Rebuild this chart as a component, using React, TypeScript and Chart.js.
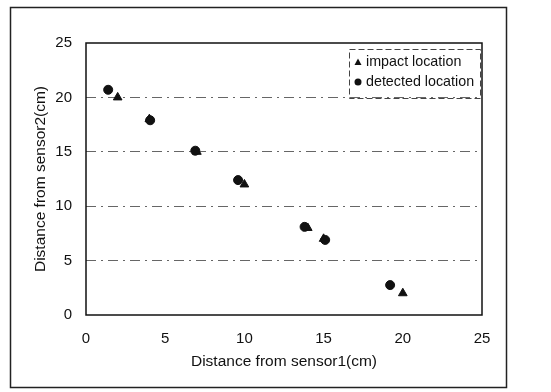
import React, { useEffect, useRef } from "react";
import { Chart, registerables } from "chart.js";

Chart.register(...registerables);

const impactX = [2, 4, 7, 10, 14, 15, 20];
const impactY = [20, 18, 15, 12, 8, 7, 2];
const detectedX = [1.4, 4.05, 6.9, 9.6, 13.8, 15.1, 19.2];
const detectedY = [20.7, 17.9, 15.1, 12.4, 8.1, 6.9, 2.75];
const seriesNames = ["impact location", "detected location"];
const xTitle = "Distance from sensor1(cm)";
const yTitle = "Distance from sensor2(cm)";

const FONT = "'Liberation Sans', Arial, sans-serif";

const framePlugin = {
  id: "frames",
  beforeDraw(chart: any) {
    const ctx = chart.ctx;
    ctx.save();
    ctx.fillStyle = "#fff";
    ctx.fillRect(0, 0, chart.width, chart.height);
    ctx.strokeStyle = "#222";
    ctx.lineWidth = 1.5;
    ctx.strokeRect(10.5, 7.5, 496, 380);
    ctx.restore();
  },
  afterDraw(chart: any) {
    const ctx = chart.ctx;
    const a = chart.chartArea;
    ctx.save();
    ctx.strokeStyle = "#111";
    ctx.lineWidth = 1.5;
    ctx.strokeRect(a.left, a.top, a.right - a.left, a.bottom - a.top);
    // legend box
    const lx = a.right - 133;
    const ly = a.top + 6;
    const lw = 131;
    const lh = 49;
    ctx.lineWidth = 1;
    ctx.strokeStyle = "#444";
    ctx.setLineDash([6, 3]);
    ctx.strokeRect(lx + 0.5, ly + 0.5, lw, lh);
    ctx.setLineDash([]);
    ctx.fillStyle = "#111";
    ctx.font = `14.3px ${FONT}`;
    ctx.textBaseline = "middle";
    ctx.textAlign = "left";
    const rows = [ly + 13, ly + 33];
    const tx = lx + 9;
    ctx.beginPath();
    ctx.moveTo(tx, rows[0] - 3.5);
    ctx.lineTo(tx + 3.5, rows[0] + 3);
    ctx.lineTo(tx - 3.5, rows[0] + 3);
    ctx.closePath();
    ctx.fill();
    ctx.beginPath();
    ctx.arc(tx, rows[1], 3.5, 0, Math.PI * 2);
    ctx.fill();
    ctx.fillText(seriesNames[0], lx + 17, rows[0]);
    ctx.fillText(seriesNames[1], lx + 17, rows[1]);
    ctx.restore();
  },
};

export default function App() {
  const ref = useRef<HTMLCanvasElement>(null);
  useEffect(() => {
    document.body.style.margin = "0";
    const gridColor = (c: any) =>
      c.tick && (c.tick.value === 0 || c.tick.value === 25) ? "rgba(0,0,0,0)" : "#666";
    const chart = new Chart(ref.current!, {
      type: "scatter",
      data: {
        datasets: [
          {
            label: seriesNames[0],
            data: impactX.map((x, i) => ({ x, y: impactY[i] })),
            pointStyle: "triangle",
            pointRadius: 5,
            backgroundColor: "#111",
            borderColor: "#111",
            order: 2,
          },
          {
            label: seriesNames[1],
            data: detectedX.map((x, i) => ({ x, y: detectedY[i] })),
            pointStyle: "circle",
            pointRadius: 4.5,
            backgroundColor: "#111",
            borderColor: "#111",
            order: 1,
          },
        ],
      },
      options: {
        animation: false,
        responsive: false,
        layout: { padding: { left: 0, top: 43, right: 69, bottom: 0 } },
        plugins: { legend: { display: false }, tooltip: { enabled: false } },
        scales: {
          x: {
            type: "linear",
            min: 0,
            max: 25,
            ticks: { stepSize: 5, padding: 15, color: "#111", font: { family: FONT, size: 15 } },
            grid: { display: false, drawTicks: false },
            border: { display: false },
            title: {
              display: true,
              text: xTitle,
              color: "#111",
              font: { family: FONT, size: 15.5 },
              padding: { top: 0, bottom: 21 },
            },
            afterFit: (s: any) => {
              s.height = 77;
            },
          },
          y: {
            type: "linear",
            min: 0,
            max: 25,
            ticks: { stepSize: 5, padding: 14, color: "#111", font: { family: FONT, size: 15 } },
            grid: { color: gridColor, drawTicks: false, lineWidth: 1 },
            border: { display: false, dash: [10, 5, 2, 5] },
            title: {
              display: true,
              text: yTitle,
              color: "#111",
              font: { family: FONT, size: 15.5 },
              padding: { top: 31, bottom: 0 },
            },
            afterFit: (s: any) => {
              s.width = 86;
            },
          },
        },
      } as any,
      plugins: [framePlugin],
    });
    return () => chart.destroy();
  }, []);
  return <canvas ref={ref} width={551} height={392} style={{ display: "block" }} />;
}
